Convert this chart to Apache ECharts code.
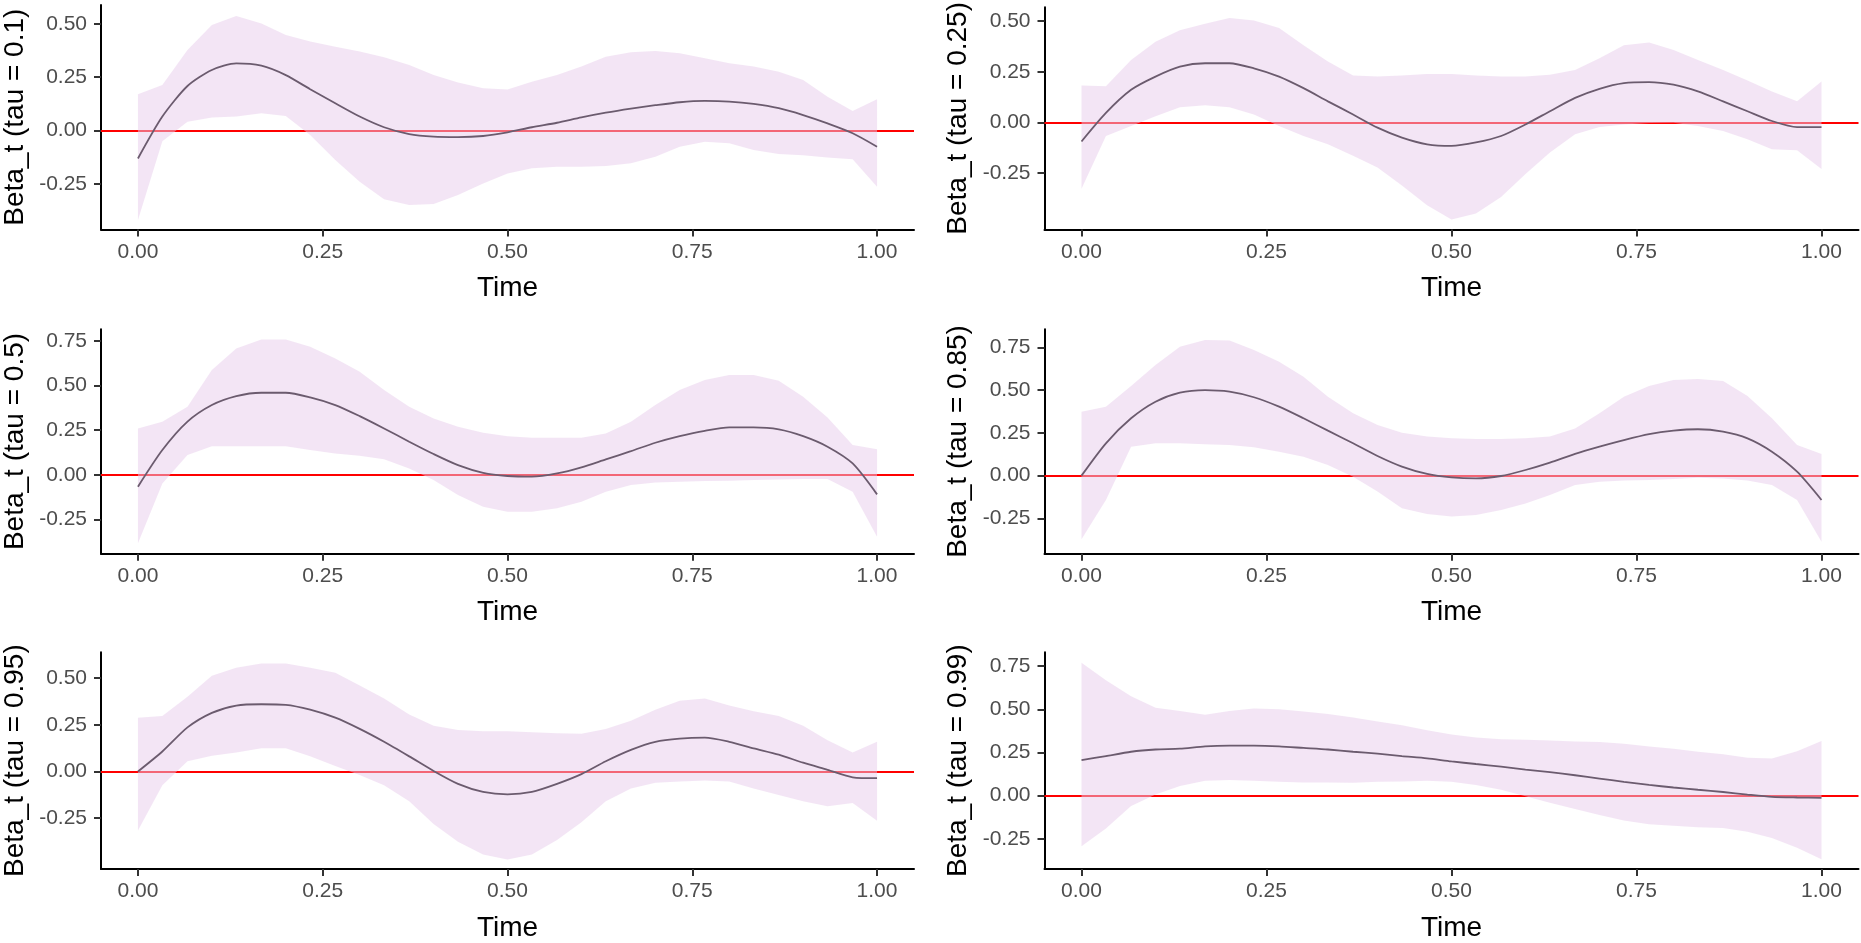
<!DOCTYPE html>
<html><head><meta charset="utf-8">
<script src="https://cdn.jsdelivr.net/npm/echarts@6/dist/echarts.min.js"></script>
<style>html,body{margin:0;padding:0;background:#fff}#c{width:1861px;height:943px}</style>
</head><body><div id="c"></div>
<script>
const time = [0,0.033,0.067,0.1,0.133,0.167,0.2,0.233,0.267,0.3,0.333,0.367,0.4,0.433,0.467,0.5,0.533,0.567,0.6,0.633,0.667,0.7,0.733,0.767,0.8,0.833,0.867,0.9,0.933,0.967,1];
const taus = ['0.1','0.25','0.5','0.85','0.95','0.99'];

const beta_010 = [-0.13,0.066,0.209,0.284,0.315,0.304,0.26,0.194,0.128,0.066,0.016,-0.016,-0.028,-0.03,-0.025,-0.008,0.016,0.037,0.062,0.084,0.103,0.119,0.133,0.139,0.136,0.125,0.105,0.073,0.034,-0.012,-0.075];
const upper_010 = [0.17,0.214,0.378,0.495,0.537,0.502,0.448,0.417,0.393,0.37,0.343,0.307,0.26,0.225,0.198,0.193,0.229,0.26,0.3,0.346,0.367,0.373,0.362,0.339,0.315,0.3,0.276,0.237,0.159,0.092,0.147];
const lower_010 = [-0.418,-0.05,0.042,0.062,0.066,0.081,0.069,-0.02,-0.137,-0.239,-0.321,-0.348,-0.343,-0.301,-0.247,-0.2,-0.176,-0.169,-0.169,-0.165,-0.153,-0.122,-0.075,-0.052,-0.059,-0.09,-0.109,-0.115,-0.125,-0.134,-0.262];

const beta_025 = [-0.094,0.047,0.161,0.226,0.275,0.292,0.292,0.267,0.226,0.169,0.104,0.039,-0.026,-0.075,-0.108,-0.116,-0.099,-0.067,-0.01,0.055,0.121,0.166,0.194,0.199,0.186,0.153,0.104,0.055,0.007,-0.023,-0.023];
const upper_025 = [0.182,0.178,0.308,0.398,0.455,0.487,0.515,0.503,0.466,0.381,0.3,0.231,0.226,0.231,0.239,0.239,0.231,0.226,0.226,0.235,0.259,0.316,0.381,0.394,0.357,0.308,0.259,0.207,0.153,0.104,0.202];
const lower_025 = [-0.327,-0.067,-0.018,0.031,0.075,0.085,0.075,0.039,-0.018,-0.067,-0.108,-0.165,-0.222,-0.311,-0.409,-0.479,-0.45,-0.368,-0.254,-0.148,-0.059,-0.023,-0.01,-0.003,-0.002,-0.018,-0.042,-0.083,-0.132,-0.137,-0.23];

const beta_050 = [-0.067,0.138,0.297,0.39,0.44,0.459,0.459,0.433,0.39,0.328,0.259,0.185,0.116,0.054,0.011,-0.007,-0.011,0.007,0.041,0.086,0.132,0.179,0.216,0.246,0.265,0.265,0.254,0.216,0.157,0.063,-0.11];
const upper_050 = [0.259,0.297,0.381,0.586,0.707,0.757,0.757,0.716,0.651,0.576,0.474,0.381,0.315,0.269,0.235,0.216,0.207,0.207,0.207,0.231,0.297,0.39,0.474,0.53,0.558,0.558,0.526,0.437,0.321,0.166,0.142];
const lower_050 = [-0.384,-0.049,0.11,0.16,0.16,0.16,0.16,0.138,0.119,0.106,0.086,0.035,-0.03,-0.114,-0.179,-0.207,-0.207,-0.188,-0.151,-0.095,-0.058,-0.043,-0.039,-0.035,-0.034,-0.03,-0.026,-0.024,-0.024,-0.095,-0.347];

const beta_085 = [0.0,0.189,0.335,0.432,0.485,0.5,0.491,0.458,0.403,0.335,0.263,0.189,0.115,0.053,0.01,-0.01,-0.016,-0.002,0.033,0.076,0.127,0.169,0.208,0.243,0.263,0.271,0.257,0.218,0.14,0.023,-0.142];
const upper_085 = [0.374,0.403,0.524,0.646,0.753,0.792,0.789,0.734,0.666,0.578,0.461,0.364,0.296,0.251,0.228,0.218,0.214,0.214,0.218,0.228,0.276,0.364,0.461,0.524,0.559,0.565,0.553,0.465,0.335,0.179,0.127];
const lower_085 = [-0.372,-0.142,0.169,0.189,0.189,0.183,0.179,0.166,0.14,0.111,0.062,-0.006,-0.093,-0.191,-0.224,-0.239,-0.23,-0.2,-0.162,-0.113,-0.055,-0.035,-0.029,-0.025,-0.019,-0.012,-0.016,-0.029,-0.055,-0.142,-0.386];

const beta_095 = [0.0,0.107,0.236,0.314,0.353,0.36,0.357,0.331,0.288,0.228,0.159,0.081,0.003,-0.066,-0.109,-0.122,-0.109,-0.066,-0.014,0.055,0.116,0.159,0.176,0.181,0.159,0.124,0.09,0.047,0.009,-0.031,-0.036];
const upper_095 = [0.288,0.297,0.4,0.512,0.555,0.578,0.578,0.555,0.529,0.46,0.391,0.305,0.245,0.222,0.216,0.216,0.21,0.205,0.202,0.228,0.271,0.331,0.378,0.391,0.353,0.322,0.297,0.245,0.167,0.102,0.159];
const lower_095 = [-0.316,-0.074,0.055,0.084,0.102,0.124,0.124,0.081,0.029,-0.019,-0.074,-0.16,-0.281,-0.376,-0.445,-0.471,-0.445,-0.367,-0.272,-0.16,-0.091,-0.06,-0.053,-0.048,-0.053,-0.091,-0.126,-0.16,-0.186,-0.169,-0.264];

const beta_099 = [0.205,0.229,0.254,0.267,0.272,0.285,0.289,0.289,0.285,0.276,0.267,0.254,0.243,0.229,0.216,0.198,0.183,0.168,0.151,0.136,0.118,0.099,0.08,0.062,0.047,0.034,0.021,0.006,-0.007,-0.011,-0.013];
const upper_099 = [0.77,0.668,0.575,0.509,0.49,0.468,0.49,0.504,0.5,0.487,0.472,0.453,0.429,0.407,0.379,0.354,0.336,0.326,0.323,0.319,0.313,0.31,0.3,0.285,0.272,0.254,0.239,0.22,0.215,0.257,0.317];
const lower_099 = [-0.293,-0.19,-0.06,0.006,0.056,0.086,0.09,0.086,0.08,0.076,0.076,0.075,0.08,0.082,0.086,0.08,0.062,0.034,-0.004,-0.041,-0.078,-0.112,-0.144,-0.166,-0.175,-0.183,-0.187,-0.209,-0.246,-0.302,-0.368];

const xTicks = [0, 0.25, 0.5, 0.75, 1];
const yTicksShort = [-0.25, 0, 0.25, 0.5];
const yTicksTall = [-0.25, 0, 0.25, 0.5, 0.75];

const panels = [
  {tau: taus[0], beta: beta_010, lo: lower_010, hi: upper_010, yTicks: yTicksShort, yMin: -0.462, yMax: 0.588},
  {tau: taus[1], beta: beta_025, lo: lower_025, hi: upper_025, yTicks: yTicksShort, yMin: -0.528, yMax: 0.568},
  {tau: taus[2], beta: beta_050, lo: lower_050, hi: upper_050, yTicks: yTicksTall, yMin: -0.442, yMax: 0.814},
  {tau: taus[3], beta: beta_085, lo: lower_085, hi: upper_085, yTicks: yTicksTall, yMin: -0.456, yMax: 0.855},
  {tau: taus[4], beta: beta_095, lo: lower_095, hi: upper_095, yTicks: yTicksShort, yMin: -0.522, yMax: 0.638},
  {tau: taus[5], beta: beta_099, lo: lower_099, hi: upper_099, yTicks: yTicksTall, yMin: -0.425, yMax: 0.830}
];

const colLeft = [100, 1044.5];
const rowTop = [5, 329.3, 652.3];
const gridW = 814, gridH = 224.4;

const FONT = '"Liberation Sans", Arial, sans-serif';
const grids = [], xAxes = [], yAxes = [], series = [];

panels.forEach((p, i) => {
  const col = i % 2, row = Math.floor(i / 2);
  grids.push({left: colLeft[col], top: rowTop[row], width: gridW, height: gridH, containLabel: false});
  xAxes.push({
    type: 'value', gridIndex: i, min: -0.05, max: 1.05,
    name: 'Time', nameLocation: 'middle', nameGap: 45,
    nameTextStyle: {fontFamily: FONT, fontSize: 28, color: '#000'},
    axisLine: {show: true, onZero: false, lineStyle: {color: '#000', width: 2}},
    axisTick: {show: true, length: 7, customValues: xTicks, lineStyle: {color: '#333', width: 2}},
    axisLabel: {show: true, customValues: xTicks, margin: 12, fontFamily: FONT, fontSize: 21, color: '#4D4D4D',
      formatter: v => v.toFixed(2)},
    splitLine: {show: false}
  });
  yAxes.push({
    type: 'value', gridIndex: i, min: p.yMin, max: p.yMax,
    name: 'Beta_t (tau = ' + p.tau + ')', nameLocation: 'middle', nameGap: 72, nameRotate: 90,
    nameTextStyle: {fontFamily: FONT, fontSize: 28, color: '#000'},
    axisLine: {show: true, onZero: false, lineStyle: {color: '#000', width: 2}},
    axisTick: {show: true, length: 7, customValues: p.yTicks, lineStyle: {color: '#333', width: 2}},
    axisLabel: {show: true, customValues: p.yTicks, margin: 14, fontFamily: FONT, fontSize: 21, color: '#4D4D4D',
      formatter: v => v.toFixed(2)},
    splitLine: {show: false}
  });
  const ribbonData = time.map((t, k) => [t, p.lo[k], p.hi[k]]);
  const betaData = time.map((t, k) => [t, p.beta[k]]);
  // red zero reference line (drawn beneath the ribbon)
  series.push({
    type: 'line', xAxisIndex: i, yAxisIndex: i, data: [], z: 1, silent: true,
    markLine: {z: 1, silent: true, symbol: ['none', 'none'], label: {show: false},
      lineStyle: {color: '#FF0000', width: 2, type: 'solid'}, emphasis: {disabled: true}, data: [{yAxis: 0}]}
  });
  // confidence ribbon as one polygon through the axis scales
  series.push({
    type: 'custom', xAxisIndex: i, yAxisIndex: i, data: ribbonData, z: 2, silent: true,
    encode: {x: 0, y: [1, 2]},
    renderItem: (params, api) => {
      if (params.dataIndex !== 0) return null;
      const upperPts = ribbonData.map(d => api.coord([d[0], d[2]]));
      const lowerPts = ribbonData.slice().reverse().map(d => api.coord([d[0], d[1]]));
      return {type: 'polygon', shape: {points: upperPts.concat(lowerPts)},
        style: {fill: 'rgba(231,203,235,0.5)', stroke: null}};
    }
  });
  series.push({
    type: 'line', xAxisIndex: i, yAxisIndex: i, data: betaData,
    showSymbol: false, symbol: 'none', z: 3, silent: true, smooth: 0.25,
    lineStyle: {color: '#6B5B6E', width: 1.8}
  });
});

const chart = echarts.init(document.getElementById('c'), null, {renderer: 'canvas'});
chart.setOption({
  animation: false, backgroundColor: '#fff',
  grid: grids, xAxis: xAxes, yAxis: yAxes, series: series
});
</script></body></html>
